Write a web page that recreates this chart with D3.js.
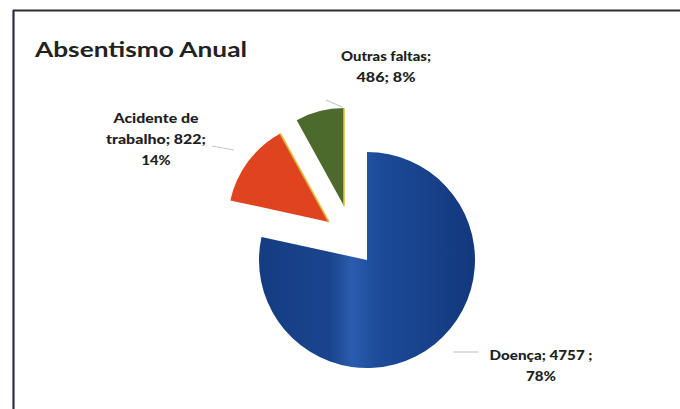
<!DOCTYPE html>
<html>
<head>
<meta charset="utf-8">
<script src="https://cdn.jsdelivr.net/npm/d3@7"></script>
<style>
  html, body { margin: 0; padding: 0; background: #fff; }
  svg { display: block; }
</style>
</head>
<body>
<svg id="chart" width="680" height="409"></svg>
<script>
// ---- Data ----
const categories = ["Doença", "Acidente de trabalho", "Outras faltas"];
const values = [4757, 822, 486];
const percentLabels = ["78%", "14%", "8%"];
const labelLines = [
  ["Doença; 4757 ;", "78%"],
  ["Acidente de", "trabalho; 822;", "14%"],
  ["Outras faltas;", "486; 8%"]
];
const title = "Absentismo Anual";

// ---- Styling / layout ----
const W = 680, H = 409;
const colors = ["url(#blueGrad)", "#e0431f", "#4b6a2b"];
// slice anchor points (pie centre for each slice, exploded ones shifted)
const sliceOrigin = [[367, 260], [329, 222], [344, 206]];
const sliceRadius = [108, 101, 98];
const labelPos = [[541, 360], [156, 123], [386, 61]];
const labelWidths = [[103, 30], [85, 100, 29], [90, 59]];
const lineH = 21;
const leaders = [
  [[453, 352], [478, 352]],
  [[212, 146], [234, 150]],
  [[326, 100], [342, 107]]
];

const svg = d3.select("#chart");

const defs = svg.append("defs");
const bg = defs.append("linearGradient").attr("id", "blueGrad")
  .attr("x1", "0%").attr("x2", "100%").attr("y1", "0%").attr("y2", "0%");
bg.append("stop").attr("offset", "0%").attr("stop-color", "#143c82");
bg.append("stop").attr("offset", "33%").attr("stop-color", "#1a458e");
bg.append("stop").attr("offset", "43%").attr("stop-color", "#2a5cae");
bg.append("stop").attr("offset", "55%").attr("stop-color", "#1c4b99");
bg.append("stop").attr("offset", "100%").attr("stop-color", "#13387c");

svg.append("rect").attr("width", W).attr("height", H).attr("fill", "#fff");

// frame
svg.append("line").attr("x1", 13).attr("y1", 10.5).attr("x2", W).attr("y2", 10.5)
  .attr("stroke", "#2b2b2b").attr("stroke-width", 2.2);
svg.append("line").attr("x1", 13.5).attr("y1", 10).attr("x2", 13.5).attr("y2", H)
  .attr("stroke", "#2b2f40").attr("stroke-width", 2.2);

// title
svg.append("text").attr("x", 35).attr("y", 57)
  .attr("font-family", "Lato, 'Open Sans', sans-serif")
  .attr("font-weight", 700).attr("font-size", 21.5)
  .attr("fill", "#222")
  .attr("textLength", 212).attr("lengthAdjust", "spacingAndGlyphs")
  .text(title);

// pie
const pie = d3.pie().sort(null).value(d => d).startAngle(0).endAngle(2 * Math.PI);
const arcs = pie(values);

const slices = svg.selectAll("g.slice").data(arcs).join("g")
  .attr("class", "slice")
  .attr("transform", (d, i) => `translate(${sliceOrigin[i][0]},${sliceOrigin[i][1]})`);

slices.append("path")
  .attr("d", (d, i) => d3.arc().innerRadius(0).outerRadius(sliceRadius[i])(d))
  .attr("fill", (d, i) => colors[i]);

// subtle yellowish edges on exploded slices (scan misregistration look)
slices.filter((d, i) => i > 0).append("path")
  .attr("d", (d, i) => {
    const r = sliceRadius[i + 1];
    const a = d.endAngle;
    return `M0,0 L${r * Math.sin(a)},${-r * Math.cos(a)}`;
  })
  .attr("stroke", "#d9c43a").attr("stroke-width", 2).attr("opacity", 0.8);

// leader lines
leaders.forEach(l => {
  svg.append("line")
    .attr("x1", l[0][0]).attr("y1", l[0][1]).attr("x2", l[1][0]).attr("y2", l[1][1])
    .attr("stroke", "#c8c8c8").attr("stroke-width", 1.2);
});

// labels
labelLines.forEach((lines, i) => {
  const t = svg.append("text")
    .attr("text-anchor", "middle")
    .attr("font-family", "Lato, 'Open Sans', sans-serif")
    .attr("font-weight", 900).attr("font-size", 13.5)
    .attr("fill", "#1e1e1e");
  lines.forEach((s, j) => {
    t.append("tspan").attr("x", labelPos[i][0]).attr("y", labelPos[i][1] + j * lineH)
      .attr("textLength", labelWidths[i][j]).attr("lengthAdjust", "spacingAndGlyphs")
      .text(s);
  });
});
</script>
</body>
</html>
